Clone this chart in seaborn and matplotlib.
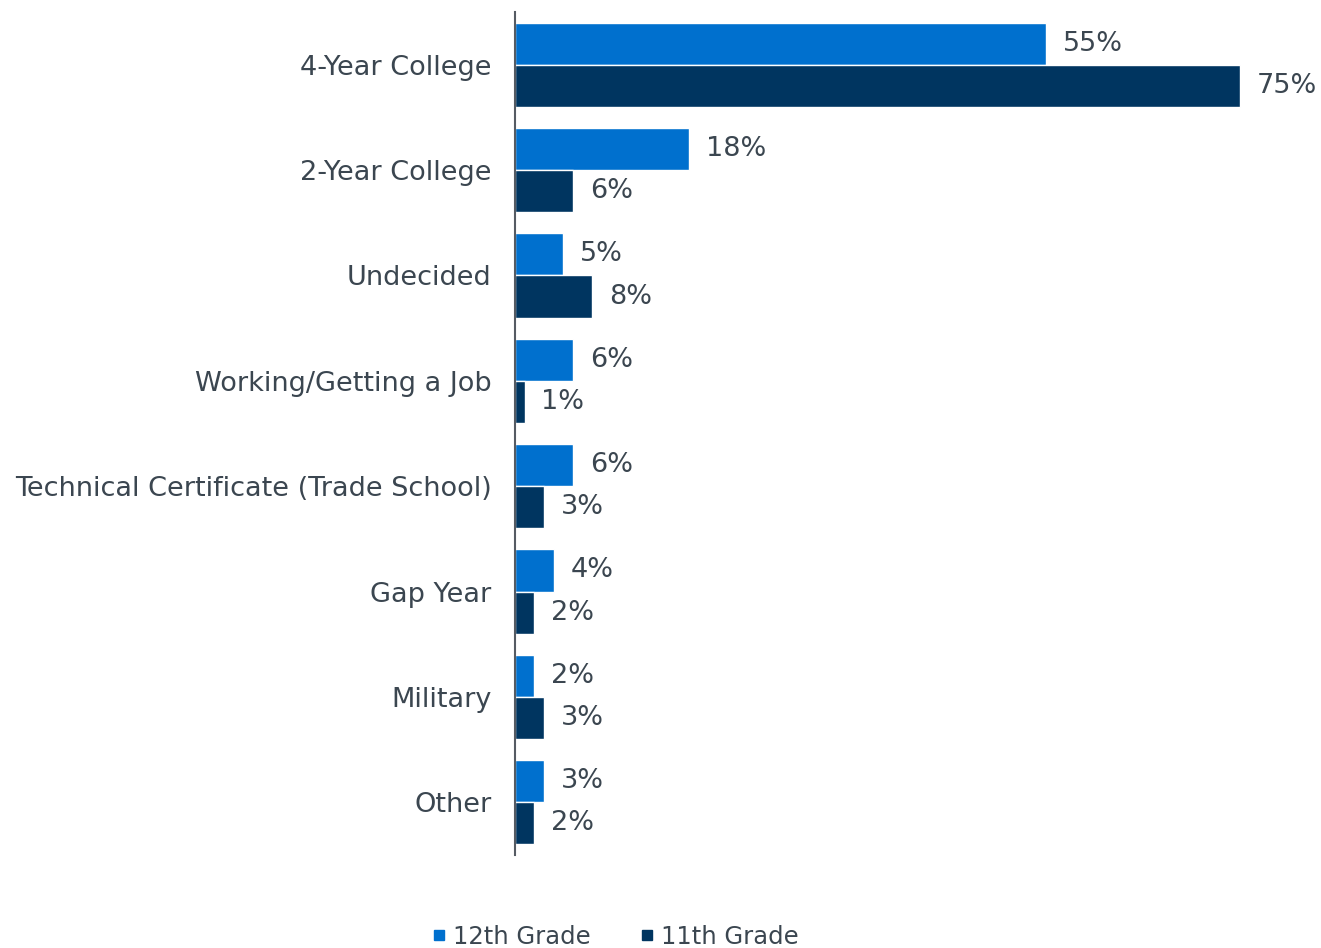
import matplotlib
matplotlib.use("Agg")
import matplotlib.pyplot as plt
from matplotlib.lines import Line2D
import seaborn as sns
import pandas as pd

categories = ["4-Year College", "2-Year College", "Undecided", "Working/Getting a Job",
              "Technical Certificate (Trade School)", "Gap Year", "Military", "Other"]
grade12 = [55, 18, 5, 6, 6, 4, 2, 3]
grade11 = [75, 6, 8, 1, 3, 2, 3, 2]
series = ["12th Grade", "11th Grade"]
colors = ["#0070CE", "#003560"]
text_color = "#3B4650"

df = pd.DataFrame({
    "plan": categories * 2,
    "pct": grade12 + grade11,
    "grade": [series[0]] * len(categories) + [series[1]] * len(categories),
})

sns.set_theme(style="white")
plt.rcParams["font.family"] = ["DejaVu Sans"]

fig = plt.figure(figsize=(13.21, 9.48), dpi=100)
ax = fig.add_axes([515 / 1321, 1 - 855 / 948, (1288 - 515) / 1321, (855 - 12) / 948])

sns.barplot(data=df, x="pct", y="plan", hue="grade", order=categories,
            hue_order=series, palette=colors, orient="h", width=0.8,
            edgecolor="white", linewidth=1, saturation=1, ax=ax, legend=False)

ax.set_xlim(0, 80)
ax.set_ylim(len(categories) - 0.5, -0.5)
ax.set_xlabel("")
ax.set_ylabel("")
ax.set_xticks([])
for side in ["top", "right", "bottom"]:
    ax.spines[side].set_visible(False)
ax.spines["left"].set_color("#555B63")
ax.spines["left"].set_linewidth(1.5)
ax.tick_params(axis="y", length=0, pad=17, labelsize=19.5, labelcolor=text_color)

for container in ax.containers:
    ax.bar_label(container, labels=[f"{v:.0f}%" for v in container.datavalues],
                 padding=12, fontsize=19.5, color=text_color)

handles = [Line2D([], [], marker="s", linestyle="", markersize=7.2, color=c) for c in colors]
fig.legend(handles, series, loc="center", bbox_to_anchor=(616 / 1321, 1 - 937 / 948),
           ncol=2, frameon=False, fontsize=17.5, labelcolor=text_color,
           handletextpad=0.33, columnspacing=2.05, handlelength=0.5)

fig.savefig("out.png", dpi=100)
